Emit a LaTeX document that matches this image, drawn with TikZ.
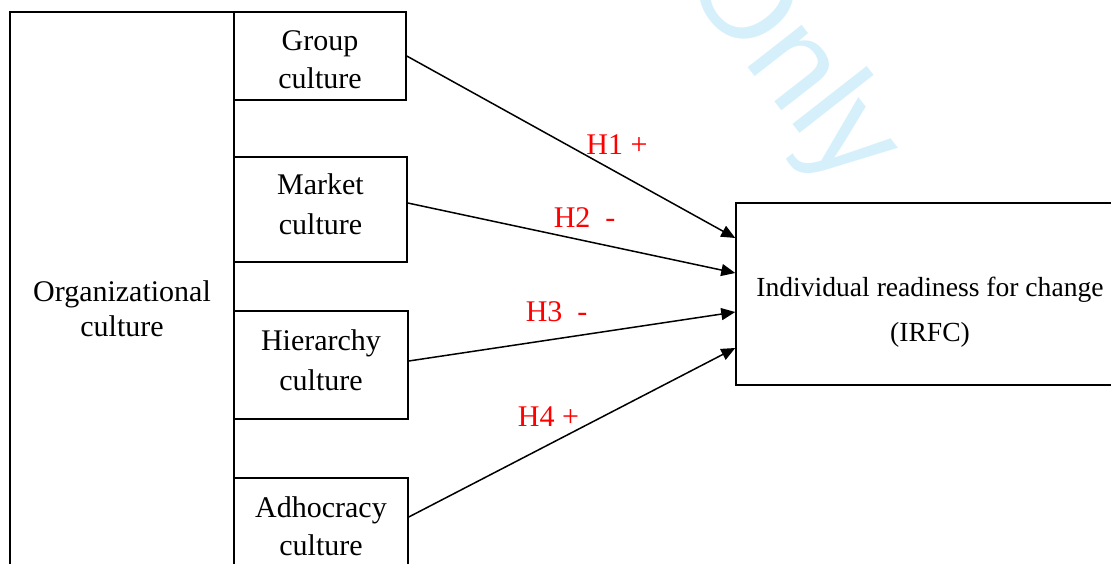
\documentclass[tikz,border=0pt]{standalone}
\usepackage{fontspec}
\setmainfont{Liberation Serif}
\newfontfamily\wmfont{Liberation Sans}
\usepackage{xcolor}
\usepackage{tikz}
\usetikzlibrary{arrows.meta,calc}
\definecolor{hypred}{RGB}{255,0,0}
\definecolor{wmcyan}{RGB}{214,240,251}

\begin{document}
\begin{tikzpicture}[x=0.5pt,y=0.5pt,
    box/.style={draw,line width=0.75pt,inner sep=0pt},
    txt/.style={align=center,inner sep=0pt,font=\fontsize{15}{19}\selectfont},
    link/.style={-{Triangle[length=7pt,width=6pt]},line width=0.75pt},
    hyp/.style={text=hypred,inner sep=0pt,font=\fontsize{15}{17}\selectfont}]
        \clip (0,0) rectangle (1111,563);
        \node[rotate=-52,text=wmcyan,font=\wmfont\fontsize{65}{65}\selectfont] (wm) at (789,498) {Only};
        \node[box,minimum width=112pt,minimum height=296pt] (org) at (122,255) {};
        \node[box,minimum width=86pt,minimum height=44pt] (grp) at (320,507) {};
        \node[box,minimum width=86.5pt,minimum height=52.5pt] (mkt) at (320.5,353.5) {};
        \node[box,minimum width=87pt,minimum height=54pt] (hier) at (321,198) {};
        \node[box,minimum width=87pt,minimum height=48pt] (adh) at (321,37) {};
        \node[box,minimum width=194pt,minimum height=91pt] (irfc) at (930,269) {};
        \node[txt,font=\fontsize{15}{17.5}\selectfont] (orgtxt) at (122,254.5) {Organizational\\culture};
        \node[txt] (grptxt) at (320,503.5) {Group\\culture};
        \node[txt,font=\fontsize{15}{20}\selectfont] (mkttxt) at (320.5,359) {Market\\culture};
        \node[txt,font=\fontsize{15}{20}\selectfont] (hiertxt) at (321,203) {Hierarchy\\culture};
        \node[txt] (adhtxt) at (321,37) {Adhocracy\\culture};
        \node[txt,font=\fontsize{13.8}{22.5}\selectfont] (irfctxt) at (930,250.5) {Individual readiness for change\\(IRFC)};
        \draw[link] (grp.east) -- node[hyp,pos=0.64,yshift=14pt] (h1) {H1 +} ($(irfc.west)+(0,56)$);
        \draw[link] ($(mkt.east)+(0,6.5)$) -- node[hyp,pos=0.54,yshift=11.5pt] (h2) {H2~~-} ($(irfc.west)+(0,21)$);
        \draw[link] ($(hier.east)+(0,4)$) -- node[hyp,pos=0.453,yshift=13.5pt] (h3) {H3~~-} ($(irfc.west)+(0,-18)$);
        \draw[link] ($(adh.east)+(0,9)$) -- node[hyp,pos=0.428,yshift=13.8pt] (h4) {H4 +} ($(irfc.west)+(0,-54)$);
      \end{tikzpicture}
\end{document}
